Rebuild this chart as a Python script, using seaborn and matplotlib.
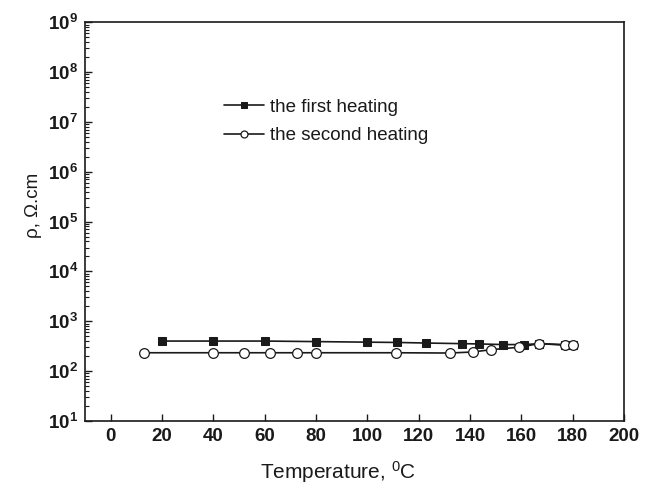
import matplotlib
matplotlib.use("Agg")
import matplotlib.pyplot as plt
import matplotlib.ticker as mticker
import seaborn as sns
import pandas as pd
import numpy as np

# Data
temp_first = [20, 40, 60, 80, 100, 111.5, 123, 136.7, 143.5, 153, 161, 167, 177, 180]
rho_first = [400, 400, 400, 390, 380, 375, 365, 355, 350, 340, 340, 355, 340, 335]
temp_second = [13, 40, 52, 62, 72.5, 80, 111, 132, 141, 148, 159, 167, 177, 180]
rho_second = [233, 233, 233, 233, 233, 233, 233, 230, 241, 268, 300, 356, 330, 330]
label_first = "the first heating"
label_second = "the second heating"
x_ticks = [0, 20, 40, 60, 80, 100, 120, 140, 160, 180, 200]
y_exponents = [1, 2, 3, 4, 5, 6, 7, 8, 9]

sns.set_style("ticks")
plt.rcParams['font.family'] = ['Liberation Sans', 'DejaVu Sans']
plt.rcParams['mathtext.fontset'] = 'custom'
plt.rcParams['mathtext.rm'] = 'Liberation Sans'
plt.rcParams['mathtext.bf'] = 'Liberation Sans:bold'
plt.rcParams['mathtext.it'] = 'Liberation Sans:italic'

INK = "#1a1a1a"
fig = plt.figure(figsize=(6.5, 4.94), dpi=100)
ax = fig.add_axes([0.131, 0.148, 0.829, 0.807])

df1 = pd.DataFrame({"T": temp_first, "rho": rho_first})
df2 = pd.DataFrame({"T": temp_second, "rho": rho_second})

sns.lineplot(data=df1, x="T", y="rho", ax=ax, color=INK, linewidth=1.2,
             marker="s", markersize=6, markerfacecolor=INK,
             markeredgecolor=INK, label=label_first, sort=False)
sns.lineplot(data=df2, x="T", y="rho", ax=ax, color=INK, linewidth=1.2,
             marker="o", markersize=7, markerfacecolor="white",
             markeredgecolor=INK, markeredgewidth=0.9,
             label=label_second, sort=False)

ax.set_yscale("log")
ax.set_xlim(-10, 200)
ax.set_ylim(10 ** y_exponents[0], 10 ** y_exponents[-1])
ax.set_xticks(x_ticks)
ax.set_xticklabels([str(t) for t in x_ticks], fontweight="bold", fontsize=13.5)
ax.yaxis.set_major_locator(mticker.FixedLocator([10.0 ** e for e in y_exponents]))
ax.yaxis.set_major_formatter(mticker.FuncFormatter(
    lambda v, p: r"$\mathbf{10^{%d}}$" % int(round(np.log10(v)))))
ax.yaxis.set_minor_locator(mticker.LogLocator(base=10, subs=np.arange(2, 10), numticks=20))
ax.yaxis.set_minor_formatter(mticker.NullFormatter())

ax.tick_params(axis="both", which="both", direction="in", top=False, right=False,
               colors=INK, labelcolor=INK)
ax.tick_params(axis="both", which="major", length=5, width=1.0, labelsize=13.5, pad=5)
ax.tick_params(axis="y", which="minor", length=3, width=0.8)
for s in ax.spines.values():
    s.set_linewidth(1.2)
    s.set_color(INK)

ax.set_xlabel(r"Temperature, $^{\mathrm{0}}$C", fontsize=15, color=INK)
ax.xaxis.set_label_coords(0.47, -0.095)
ax.set_ylabel(r"ρ, Ω.cm", fontsize=13.5, color=INK)
ax.yaxis.set_label_coords(-0.08, 0.54)

leg = ax.legend(loc="upper left", bbox_to_anchor=(0.243, 0.827), frameon=False,
                fontsize=13.5, handlelength=2.15, handletextpad=0.3, labelspacing=0.6,
                borderaxespad=0)
for t in leg.get_texts():
    t.set_color(INK)
for h in leg.legend_handles:
    h.set_markersize(5)

fig.savefig("out.png", dpi=100)
